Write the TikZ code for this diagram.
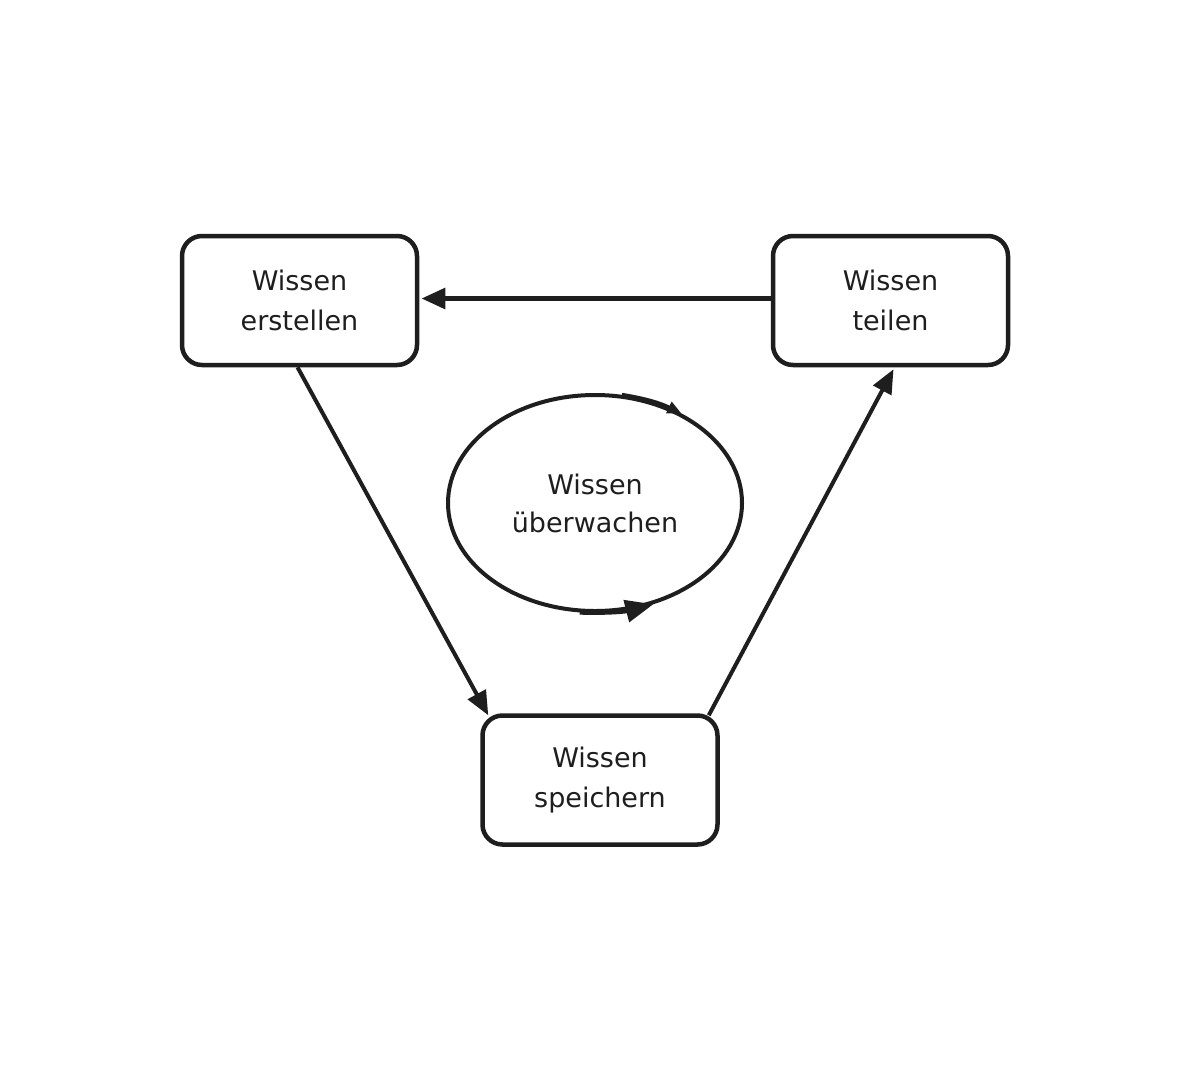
\documentclass[tikz,border=0pt]{standalone}
\usepackage{fontspec}
\setmainfont{DejaVu Sans}
\usetikzlibrary{arrows.meta,shapes.geometric,calc}
\definecolor{ink}{HTML}{1E1E1E}
\begin{document}
\begin{tikzpicture}[x=1pt,y=-1pt,
  box/.style={draw=ink,line width=4.5pt,rounded corners=20pt,minimum width=235pt,minimum height=129pt,
    align=center,inner sep=0pt,text=ink,font=\fontsize{27}{40}\selectfont},
  oval/.style={ellipse,draw=ink,line width=4pt,minimum width=294pt,minimum height=216pt,
    align=center,inner sep=0pt,text=ink,font=\fontsize{27}{38}\selectfont},
  conn/.style={draw=ink,line width=4pt,-{Triangle[length=24pt,width=20pt]}},
  thickconn/.style={conn,line width=5.5pt},
  cyc/.style={draw=ink,line width=4.5pt,-{Triangle[length=28pt,width=22pt]}},
  cycsmall/.style={draw=ink,line width=4pt,-{Triangle[length=14pt,width=12pt]}}]
\useasboundingbox (0,0) rectangle (1191,1080);
\fill[white] (0,0) rectangle (1191,1080);

\node[box] (erst) at (299.5,300.5) {Wissen\\erstellen};
\node[box] (teil) at (890.5,300.5) {Wissen\\teilen};
\node[box] (spei) at (600,780) {Wissen\\speichern};
\node[oval] (mon) at (595,503) {Wissen\\überwachen};

\draw[thickconn] ($(teil.west)+(0,-2)$) -- ($(erst.east)+(2,-2)$);
\draw[conn] ($(erst.south)+(-2,0)$) -- ($(spei.north west)+(8,2)$);
\draw[conn] ($(spei.north east)+(-11,2)$) -- ($(teil.south)+(3,2)$);

\draw[cyc] (mon.262) to[bend right=8] (mon.300);
\draw[cycsmall] (mon.76) to[bend left=8] (mon.46);
\end{tikzpicture}
\end{document}
